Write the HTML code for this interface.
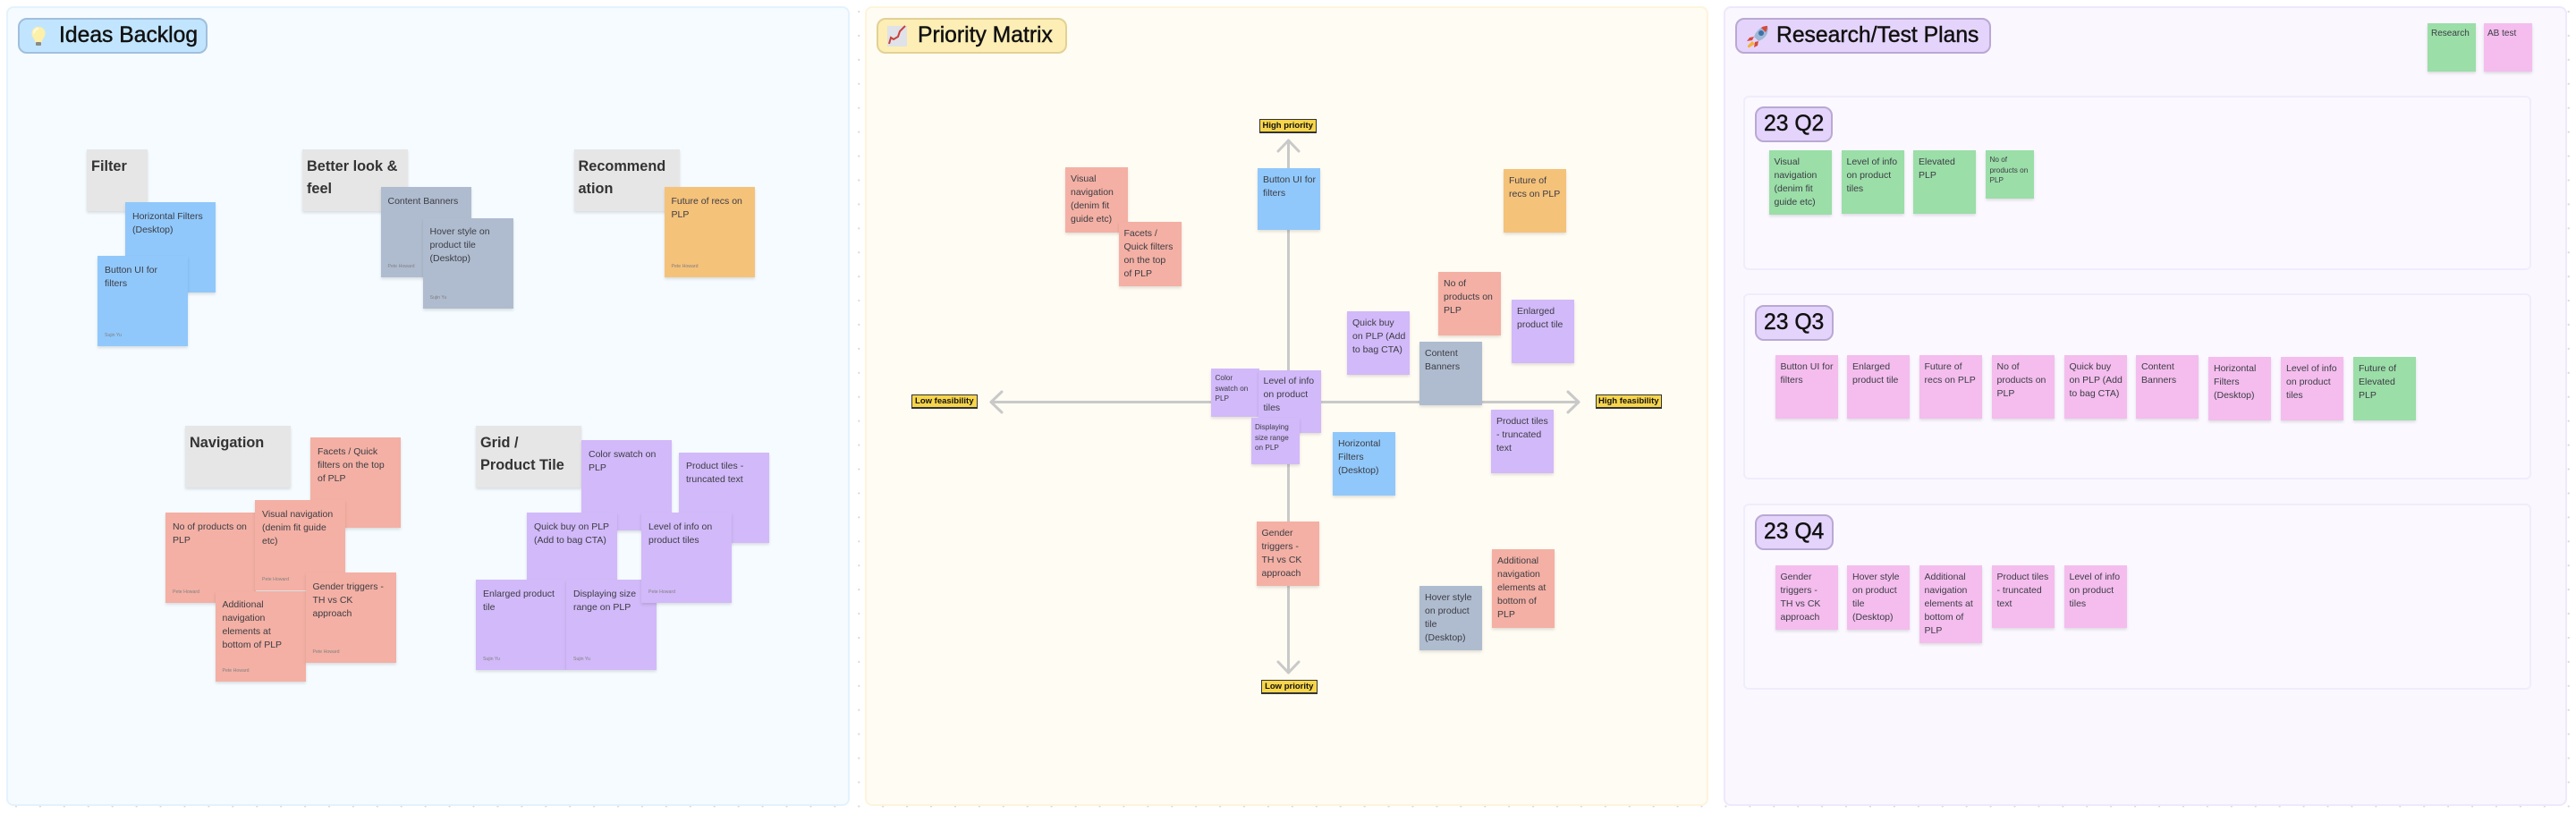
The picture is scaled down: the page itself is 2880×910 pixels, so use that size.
<!DOCTYPE html>
<html><head><meta charset="utf-8"><title>Board</title>
<style>
html,body{margin:0;padding:0;width:2880px;height:910px;overflow:hidden}
body{position:relative;font-family:"Liberation Sans",sans-serif;color:#1e1e1e;background-color:#fff;
background-image:radial-gradient(circle at 1.5px 1.5px,#d8d8d8 0,#d8d8d8 .9px,transparent 1.3px);
background-size:26.93px 26.93px;background-position:16.5px 11.5px}
div{box-sizing:border-box}
.panel{position:absolute;top:7px;height:894px;width:943px;border-radius:8px;border:2px solid}
.pill{position:absolute;border-radius:10px;border:2.5px solid;font-size:24.7px;color:#111;line-height:36px;white-space:nowrap;-webkit-text-stroke:.45px #111}
.pill span{position:absolute;top:0}
.f{position:absolute;background:#fbf9ff;border:2px solid #f1ecfc;border-radius:6px;left:1949px;width:881px}
.h,.n,.m,.s,.t{position:absolute;white-space:nowrap;box-shadow:0 2px 3px rgba(0,0,0,.12)}
.h{background:#e6e6e6;width:118px;height:69px;font-size:16.3px;font-weight:bold;line-height:25px;padding:6.5px 0 0 5px;color:#333}
.n{width:101px;height:101px;font-size:10.5px;line-height:15px;padding:8.5px 0 0 8px;color:#3c3c44}
.n i{position:absolute;left:8px;top:86px;font-style:normal;font-size:5.2px;line-height:6px;color:#808080}
.m{width:70px;height:71px;font-size:10.5px;line-height:15px;padding:5.5px 0 0 6px;color:#3c3c44}
.s{width:54px;height:54px;font-size:8.2px;line-height:11.7px;padding:5px 0 0 4.5px;color:#3c3c44}
.t{background:#f7d54b;border:1px solid #333;border-bottom-width:2px;font-size:9.5px;font-weight:bold;line-height:13px;height:16px;text-align:center;box-shadow:none;color:#111}
.b{background:#90c8fb}.g{background:#afbccf}.o{background:#f5c27a}.r{background:#f4b0a4}.p{background:#d2b9f9}.e{background:#9bdea8}.k{background:#f4bdee}
svg{position:absolute;left:0;top:0;overflow:visible}
</style></head><body>

<div class="panel" style="left:7px;background:#f5fbff;border-color:#e4f2fc"></div>
<div class="panel" style="left:967px;background:#fffcf3;border-color:#fdf4dc"></div>
<div class="panel" style="left:1927px;background:#faf7fe;border-color:#efe8fb"></div>

<div class="pill" style="left:20px;top:20px;width:212px;height:40px;background:#c2e5ff;border-color:#a0bfdb"><span style="left:44px">Ideas Backlog</span></div>
<div class="pill" style="left:980px;top:20px;width:213px;height:40px;background:#fceeb5;border-color:#e2d196"><span style="left:44px">Priority Matrix</span></div>
<div class="pill" style="left:1940px;top:20px;width:286px;height:40px;background:#e4d4fb;border-color:#b9a8d4"><span style="left:44px">Research/Test Plans</span></div>

<svg width="2880" height="910">
<g>
<path d="M43 30c-5 0-7.500 3.500-7.500 7.500 0 4 3.500 6 4 10h7c.5-4 4-6 4-10 0-4-2.500-7.500-7.500-7.500z" fill="#fdf0a8"/>
<path d="M43 32c-3 0-5 2.500-5 5.500" stroke="#fffbe0" stroke-width="2" fill="none"/>
<rect x="40" y="47" width="6" height="4" rx="1" fill="#8a8a8a"/>
</g>
<g>
<rect x="992" y="29" width="22" height="23" fill="#dfe2e8"/>
<path d="M994 49l2-7 3 2 5-3 2-6 6-6" stroke="#c9403a" stroke-width="2" fill="none"/>
</g>
<g>
<path d="M1976 29c-6 0-12 4-15 12l5 5c8-3 12-9 10-17z" fill="#9fb8d6"/>
<circle cx="1969" cy="37" r="3" fill="#3d6fa8"/>
<path d="M1976 29c-3 0-5 .5-7 2l5 5c1.500-2 2-4.500 2-7z" fill="#d8483c"/>
<path d="M1961 41l-5 1-3 4 6-1zM1966 46l-1 5-4 2 1-6z" fill="#d8483c"/>
<path d="M1959 46l3 3-6 4-2 0 0-2z" fill="#f4b13a"/>
</g>

<g stroke="#c9c9c9" stroke-width="3" fill="none" stroke-linecap="round" stroke-linejoin="round">
<path d="M1440.500 157V752"/>
<path d="M1429 169l11.500-12 11.500 12"/>
<path d="M1429 740l11.500 12 11.500-12"/>
<path d="M1108 449.500H1765"/>
<path d="M1120 438l-12 11.500 12 11.500"/>
<path d="M1753 438l12 11.500-12 11.500"/>
</g>
</svg>

<!-- Ideas backlog -->
<div class="h" style="left:97px;top:167px;width:68px">Filter</div>
<div class="n b" style="left:140px;top:226px">Horizontal Filters<br>(Desktop)<i>Sujin Yu</i></div>
<div class="n b" style="left:109px;top:286px">Button UI for<br>filters<i>Sujin Yu</i></div>

<div class="h" style="left:338px;top:167px">Better look &amp;<br>feel</div>
<div class="n g" style="left:425.500px;top:209px">Content Banners<i>Pete Howard</i></div>
<div class="n g" style="left:472.500px;top:243.500px">Hover style on<br>product tile<br>(Desktop)<i>Sujin Yu</i></div>

<div class="h" style="left:641.500px;top:167px">Recommend<br>ation</div>
<div class="n o" style="left:742.500px;top:209px">Future of recs on<br>PLP<i>Pete Howard</i></div>

<div class="h" style="left:207px;top:476px">Navigation</div>
<div class="n r" style="left:347px;top:489px">Facets / Quick<br>filters on the top<br>of PLP<i>Pete Howard</i></div>
<div class="n r" style="left:185px;top:573px">No of products on<br>PLP<i>Pete Howard</i></div>
<div class="n r" style="left:285px;top:559px">Visual navigation<br>(denim fit guide<br>etc)<i>Pete Howard</i></div>
<div class="n r" style="left:240.500px;top:660.500px">Additional<br>navigation<br>elements at<br>bottom of PLP<i>Pete Howard</i></div>
<div class="n r" style="left:341.500px;top:640px">Gender triggers -<br>TH vs CK<br>approach<i>Pete Howard</i></div>

<div class="h" style="left:532px;top:476px">Grid /<br>Product Tile</div>
<div class="n p" style="left:650px;top:492px">Color swatch on<br>PLP<i>Pete Howard</i></div>
<div class="n p" style="left:759px;top:505.500px">Product tiles -<br>truncated text<i>Pete Howard</i></div>
<div class="n p" style="left:589px;top:573px">Quick buy on PLP<br>(Add to bag CTA)<i>Sujin Yu</i></div>
<div class="n p" style="left:532px;top:648px">Enlarged product<br>tile<i>Sujin Yu</i></div>
<div class="n p" style="left:633px;top:648px">Displaying size<br>range on PLP<i>Sujin Yu</i></div>
<div class="n p" style="left:717px;top:573px">Level of info on<br>product tiles<i>Pete Howard</i></div>

<!-- Priority matrix -->
<div class="t" style="left:1407.500px;top:133px;width:64.500px">High priority</div>
<div class="t" style="left:1410px;top:760px;width:62.500px">Low priority</div>
<div class="t" style="left:1019px;top:441px;width:73.500px">Low feasibility</div>
<div class="t" style="left:1783.500px;top:441px;width:74.500px">High feasibility</div>

<div class="m r" style="left:1191px;top:187px;height:73px">Visual<br>navigation<br>(denim fit<br>guide etc)</div>
<div class="m r" style="left:1250.500px;top:248px;height:72px">Facets /<br>Quick filters<br>on the top<br>of PLP</div>
<div class="m b" style="left:1406px;top:188px;height:69px">Button UI for<br>filters</div>
<div class="m o" style="left:1681px;top:189px">Future of<br>recs on PLP</div>
<div class="m r" style="left:1608px;top:304px">No of<br>products on<br>PLP</div>
<div class="m p" style="left:1690px;top:335px">Enlarged<br>product tile</div>
<div class="m p" style="left:1506px;top:348px">Quick buy<br>on PLP (Add<br>to bag CTA)</div>
<div class="m g" style="left:1587px;top:382px">Content<br>Banners</div>
<div class="s p" style="left:1354px;top:412px;height:53.500px">Color<br>swatch on<br>PLP</div>
<div class="m p" style="left:1406.500px;top:413.500px;height:70px">Level of info<br>on product<br>tiles</div>
<div class="s p" style="left:1398.500px;top:467px;height:52px">Displaying<br>size range<br>on PLP</div>
<div class="m b" style="left:1490px;top:483px">Horizontal<br>Filters<br>(Desktop)</div>
<div class="m p" style="left:1667px;top:458px">Product tiles<br>- truncated<br>text</div>
<div class="m r" style="left:1404.500px;top:583px;height:72px">Gender<br>triggers -<br>TH vs CK<br>approach</div>
<div class="m r" style="left:1668px;top:614px;height:88px">Additional<br>navigation<br>elements at<br>bottom of<br>PLP</div>
<div class="m g" style="left:1587px;top:655px;height:72px">Hover style<br>on product<br>tile<br>(Desktop)</div>

<!-- Research / test plans -->
<div class="s e" style="left:2714px;top:25.500px;font-size:10px;line-height:14px;padding:5.500px 0 0 4px">Research</div>
<div class="s k" style="left:2776.500px;top:25.500px;font-size:10px;line-height:14px;padding:5.500px 0 0 4.500px">AB test</div>

<div class="f" style="top:107px;height:195px"></div>
<div class="pill" style="left:1962px;top:119px;width:87px;height:40px;background:#e4d4fb;border-color:#b9a8d4"><span style="left:8px">23 Q2</span></div>
<div class="m e" style="left:1977.500px;top:168px;height:72px">Visual<br>navigation<br>(denim fit<br>guide etc)</div>
<div class="m e" style="left:2058.500px;top:168px">Level of info<br>on product<br>tiles</div>
<div class="m e" style="left:2139px;top:168px">Elevated<br>PLP</div>
<div class="s e" style="left:2220px;top:168px">No of<br>products on<br>PLP</div>

<div class="f" style="top:328px;height:208px"></div>
<div class="pill" style="left:1962px;top:341px;width:88px;height:40px;background:#e4d4fb;border-color:#b9a8d4"><span style="left:8px">23 Q3</span></div>
<div class="m k" style="left:1984.500px;top:397px">Button UI for<br>filters</div>
<div class="m k" style="left:2065px;top:397px">Enlarged<br>product tile</div>
<div class="m k" style="left:2145.500px;top:397px">Future of<br>recs on PLP</div>
<div class="m k" style="left:2226.500px;top:397px">No of<br>products on<br>PLP</div>
<div class="m k" style="left:2307.500px;top:397px">Quick buy<br>on PLP (Add<br>to bag CTA)</div>
<div class="m k" style="left:2388px;top:397px">Content<br>Banners</div>
<div class="m k" style="left:2469px;top:399px">Horizontal<br>Filters<br>(Desktop)</div>
<div class="m k" style="left:2550px;top:399px">Level of info<br>on product<br>tiles</div>
<div class="m e" style="left:2631px;top:399px">Future of<br>Elevated<br>PLP</div>

<div class="f" style="top:563px;height:208px"></div>
<div class="pill" style="left:1962px;top:575px;width:88px;height:40px;background:#e4d4fb;border-color:#b9a8d4"><span style="left:8px">23 Q4</span></div>
<div class="m k" style="left:1984.500px;top:632px;height:72px">Gender<br>triggers -<br>TH vs CK<br>approach</div>
<div class="m k" style="left:2065px;top:632px;height:72px">Hover style<br>on product<br>tile<br>(Desktop)</div>
<div class="m k" style="left:2145.500px;top:632px;height:87px">Additional<br>navigation<br>elements at<br>bottom of<br>PLP</div>
<div class="m k" style="left:2226.500px;top:632px;height:70px">Product tiles<br>- truncated<br>text</div>
<div class="m k" style="left:2307.500px;top:632px;height:70px">Level of info<br>on product<br>tiles</div>

</body></html>
